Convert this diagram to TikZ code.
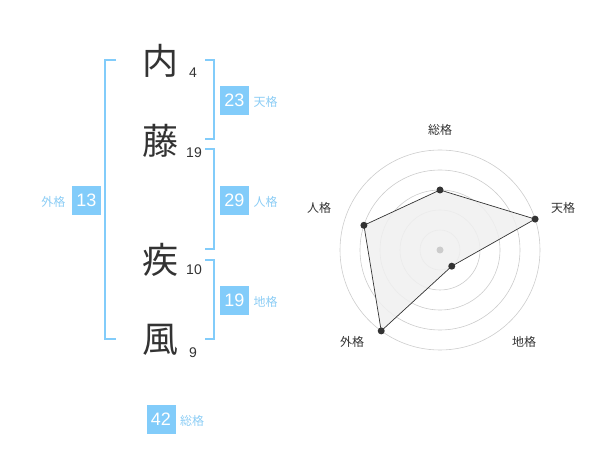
\documentclass[tikz,border=0pt]{standalone}
\usepackage{fontspec}
\setmainfont{Liberation Sans}
\newfontfamily\jp{Noto Sans CJK JP}
\definecolor{boxblue}{RGB}{130,204,250}
\definecolor{lblblue}{RGB}{140,205,245}
\definecolor{txt}{RGB}{51,51,51}
\definecolor{ring}{RGB}{204,204,204}
\definecolor{fillg}{RGB}{240,240,240}
\begin{document}
\begin{tikzpicture}[x=1pt,y=-1pt,
  kanji/.style={font=\jp\fontsize{36}{36}\selectfont, text=txt, inner sep=0},
  strk/.style={font=\fontsize{14}{14}\selectfont, text=txt, inner sep=0},
  numbox/.style={fill=boxblue, text=white, minimum width=29, minimum height=29, inner sep=0, font=\fontsize{18}{18}\selectfont},
  lbl/.style={text=lblblue, font=\jp\fontsize{12}{12}\selectfont, inner sep=0},
  brk/.style={draw=boxblue, line width=1.6pt},
  rlbl/.style={text=txt, font=\jp\fontsize{12}{12}\selectfont, inner sep=0},
  pt/.style={circle, fill=txt, inner sep=0, minimum size=7}
]
\useasboundingbox (0,0) rectangle (600,470);
% kanji
\node[kanji] (k1) at (160,61) {内};
\node[kanji] (k2) at (160,141) {藤};
\node[kanji] (k3) at (160,260) {疾};
\node[kanji] (k4) at (160,340) {風};
\node[strk] (s1) at (193,73) {4};
\node[strk] (s2) at (194,153) {19};
\node[strk] (s3) at (194,270) {10};
\node[strk] (s4) at (193,353) {9};
% brackets
\coordinate (la) at (116,60); \coordinate (lb) at (116,339);
\draw[brk] (la) -- (105,60) -- (105,339) -- (lb);
\draw[brk] (205,60) -- (214,60) -- (214,139) -- (205,139);
\draw[brk] (205,149) -- (214,149) -- (214,249) -- (205,249);
\draw[brk] (205,260) -- (214,260) -- (214,339) -- (205,339);
% boxes
\node[numbox] (ten) at (234.5,100.5) {23};
\node[lbl] (tenl) at (265.5,102) {天格};
\node[numbox] (jin) at (234.5,200.5) {29};
\node[lbl] (jinl) at (265.5,202) {人格};
\node[numbox] (chi) at (234.5,300.5) {19};
\node[lbl] (chil) at (265.5,302) {地格};
\node[numbox] (gai) at (86.5,200.5) {13};
\node[lbl] (gail) at (53.5,202) {外格};
\node[numbox] (sou) at (161,419) {42};
\node[lbl] (soul) at (192,421) {総格};
% radar
\begin{scope}[shift={(440,250)}, yscale=-1]
\foreach \r in {20,40,60,80,100} \draw[ring, line width=0.6pt] (0,0) circle (\r);
\coordinate (p1) at (90:60);
\coordinate (p2) at (18:100);
\coordinate (p3) at (-54:20);
\coordinate (p4) at (-126:100);
\coordinate (p5) at (162:80);
\fill[fillg, opacity=0.85] (p1) -- (p2) -- (p3) -- (p4) -- (p5) -- cycle;
\draw[txt, line width=0.7pt] (p1) -- (p2) -- (p3) -- (p4) -- (p5) -- cycle;
\node[circle, fill=ring, inner sep=0, minimum size=7] (ctr) at (0,0) {};
\foreach \p in {p1,p2,p3,p4,p5} \node[pt] at (\p) {};
\node[rlbl] (r1) at (0,120) {総格};
\node[rlbl] (r2) at (123,42) {天格};
\node[rlbl] (r3) at (84,-92) {地格};
\node[rlbl] (r4) at (-88,-92) {外格};
\node[rlbl] (r5) at (-121,42) {人格};
\end{scope}
\end{tikzpicture}
\end{document}
